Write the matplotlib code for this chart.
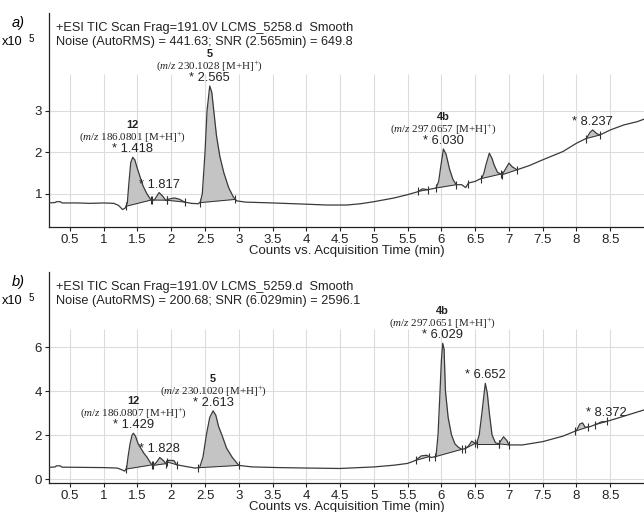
import numpy as np
import matplotlib
matplotlib.use("Agg")
import matplotlib.pyplot as plt

plt.rcParams['font.family'] = ['Liberation Sans', 'DejaVu Sans']
plt.rcParams['mathtext.fontset'] = 'custom'
plt.rcParams['mathtext.rm'] = 'Liberation Serif'
plt.rcParams['mathtext.it'] = 'Liberation Serif:italic'

# ---- trace a) LCMS_5258 ----
t_a = [0.19, 0.28, 0.30, 0.36, 0.38, 0.6, 0.8, 1.0, 1.15, 1.22, 1.28, 1.32, 1.35,
       1.37, 1.40, 1.43, 1.46, 1.50, 1.53, 1.58, 1.64, 1.70, 1.75, 1.82, 1.87, 1.92,
       1.98, 2.05, 2.12, 2.2, 2.3, 2.4, 2.43, 2.46, 2.50, 2.53, 2.57, 2.60, 2.63,
       2.67, 2.72, 2.78, 2.85, 2.92, 2.97, 3.1, 3.5, 4.0, 4.3, 4.6, 4.8, 5.0, 5.3,
       5.5, 5.65, 5.72, 5.8, 5.92, 5.96, 5.99, 6.03, 6.07, 6.12, 6.17, 6.22, 6.3,
       6.36, 6.4, 6.5, 6.6, 6.63, 6.66, 6.71, 6.75, 6.78, 6.83, 6.9, 6.95, 7.0,
       7.05, 7.12, 7.3, 7.5, 7.8, 8.0, 8.15, 8.2, 8.24, 8.3, 8.35, 8.5, 8.7, 8.9, 9.0]
v_a = [0.78, 0.79, 0.81, 0.81, 0.78, 0.78, 0.77, 0.78, 0.77, 0.72, 0.62, 0.66, 0.78,
       1.2, 1.75, 1.88, 1.82, 1.6, 1.45, 1.2, 1.0, 0.85, 0.85, 1.03, 0.95, 0.84,
       0.88, 0.9, 0.87, 0.8, 0.77, 0.76, 0.8, 1.0, 2.0, 3.0, 3.6, 3.45, 3.0,
       2.4, 1.9, 1.5, 1.15, 0.92, 0.83, 0.8, 0.78, 0.75, 0.73, 0.73, 0.76, 0.81, 0.9,
       0.98, 1.05, 1.12, 1.1, 1.14, 1.3, 1.65, 2.08, 1.95, 1.6, 1.35, 1.22, 1.22,
       1.15, 1.26, 1.3, 1.38, 1.5, 1.7, 1.98, 1.85, 1.7, 1.52, 1.46, 1.6, 1.74,
       1.65, 1.58, 1.68, 1.82, 2.02, 2.22, 2.34, 2.48, 2.54, 2.45, 2.42, 2.54, 2.66, 2.74, 2.8]
int_a = [(1.33, 1.70), (1.72, 1.93), (1.93, 2.20), (2.42, 2.95), (5.66, 5.80),
         (5.92, 6.22), (6.58, 6.88), (6.90, 7.12), (8.14, 8.35)]
marks_a = [6.39]
# (retention time label, compound, m/z text)
labels_a = [("1.418", "12", "186.0801"), ("1.817", None, None),
            ("2.565", "5", "230.1028"), ("6.030", "4b", "297.0657"),
            ("8.237", None, None)]
head_a = ["+ESI TIC Scan Frag=191.0V LCMS_5258.d  Smooth",
          "Noise (AutoRMS) = 441.63; SNR (2.565min) = 649.8"]

# ---- trace b) LCMS_5259 ----
t_b = [0.19, 0.28, 0.30, 0.36, 0.38, 0.7, 1.0, 1.2, 1.27, 1.31, 1.34, 1.36, 1.39,
       1.42, 1.44, 1.47, 1.51, 1.55, 1.60, 1.64, 1.70, 1.73, 1.78, 1.83, 1.88, 1.92,
       1.96, 2.04, 2.08, 2.2, 2.35, 2.42, 2.47, 2.52, 2.57, 2.62, 2.66, 2.70, 2.75,
       2.82, 2.9, 3.0, 3.2, 3.6, 4.0, 4.5, 5.0, 5.3, 5.5, 5.62, 5.7, 5.78, 5.85,
       5.92, 5.95, 5.98, 6.0, 6.02, 6.04, 6.06, 6.1, 6.15, 6.2, 6.25, 6.3, 6.35,
       6.4, 6.45, 6.5, 6.52, 6.56, 6.6, 6.65, 6.68, 6.71, 6.75, 6.8, 6.85, 6.92,
       6.97, 7.0, 7.2, 7.5, 7.8, 8.0, 8.05, 8.09, 8.13, 8.2, 8.3, 8.37, 8.45, 8.6,
       8.8, 9.0]
v_b = [0.53, 0.55, 0.6, 0.6, 0.54, 0.53, 0.52, 0.5, 0.42, 0.36, 0.5, 1.0, 1.6,
       2.0, 2.08, 1.95, 1.6, 1.4, 1.15, 1.0, 0.7, 0.62, 0.75, 0.98, 0.85, 0.7,
       0.85, 0.84, 0.65, 0.58, 0.5, 0.52, 1.0, 2.0, 2.8, 3.1, 2.9, 2.4, 2.0,
       1.4, 1.0, 0.62, 0.55, 0.52, 0.5, 0.48, 0.55, 0.63, 0.71, 0.85, 1.05, 1.08, 0.98,
       1.02, 2.0, 4.0, 5.4, 6.17, 5.9, 4.0, 2.8, 2.0, 1.6, 1.45, 1.35, 1.38,
       1.5, 1.72, 1.62, 1.6, 2.0, 3.0, 4.35, 3.9, 3.0, 2.0, 1.65, 1.6, 1.92,
       1.75, 1.55, 1.55, 1.7, 1.95, 2.2, 2.5, 2.55, 2.35, 2.38, 2.5, 2.6, 2.62, 2.76,
       2.95, 3.14]
int_b = [(1.33, 1.72), (1.73, 1.92), (1.94, 2.08), (2.40, 3.00), (5.62, 5.82),
         (5.90, 6.30), (6.35, 6.50), (6.52, 6.85), (6.85, 7.00), (7.98, 8.17),
         (8.28, 8.45)]
marks_b = []
labels_b = [("1.429", "12", "186.0807"), ("1.828", None, None),
            ("2.613", "5", "230.1020"), ("6.029", "4b", "297.0651"),
            ("6.652", None, None), ("8.372", None, None)]
head_b = ["+ESI TIC Scan Frag=191.0V LCMS_5259.d  Smooth",
          "Noise (AutoRMS) = 200.68; SNR (6.029min) = 2596.1"]

xticks = [0.5, 1, 1.5, 2, 2.5, 3, 3.5, 4, 4.5, 5, 5.5, 6, 6.5, 7, 7.5, 8, 8.5]
xtlabels = ["0.5", "1", "1.5", "2", "2.5", "3", "3.5", "4", "4.5", "5", "5.5",
            "6", "6.5", "7", "7.5", "8", "8.5"]

W, H = 644, 512
fig = plt.figure(figsize=(W / 100, H / 100), dpi=100)
line_c = '#3a3a3a'
grid_c = '#dcdcdc'


def panel(ax, t, v, ints, marks, labels, head, ylim, yticks, gridtop, tag):
    t = np.array(t)
    v = np.array(v)
    ax.set_xlim(0.19, 9.0)
    ax.set_ylim(*ylim)
    ax.vlines(xticks, ylim[0], gridtop, color=grid_c, lw=0.8, zorder=0)
    ax.hlines(yticks, 0.19, 9.0, color=grid_c, lw=0.8, zorder=0)
    for s, e in ints:
        m = (t > s) & (t < e)
        tt = np.concatenate([[s], t[m], [e]])
        vv = np.concatenate([[np.interp(s, t, v)], v[m], [np.interp(e, t, v)]])
        base = np.interp(tt, [s, e], [vv[0], vv[-1]])
        ax.fill_between(tt, base, vv, color='#c4c4c4', lw=0, zorder=1)
        ax.plot([s, e], [vv[0], vv[-1]], color='#303030', lw=0.7, zorder=2)
        ax.plot([s, e], [vv[0], vv[-1]], ls='none', marker='|', ms=6, mew=0.8,
                color='#303030', zorder=2)
    for mk in marks:
        ax.plot([mk], [np.interp(mk, t, v)], ls='none', marker='|', ms=6, mew=0.8,
                color='#303030', zorder=2)
    ax.plot(t, v, color=line_c, lw=0.9, zorder=3)
    for rt, comp, mz in labels:
        r = float(rt)
        w = (t > r - 0.08) & (t < r + 0.08)
        i = np.argmax(np.where(w, v, -1))
        px, py = t[i], v[i]
        ax.annotate("* " + rt, (px, py), xytext=(0, 8), textcoords='offset pixels',
                    ha='center', va='center', fontsize=9.3, color='#222222')
        if comp:
            ax.annotate(r"($\it{m/z}$ " + mz + r" [M+H]$^{+}$)", (px, py),
                        xytext=(0, 20), textcoords='offset pixels', ha='center',
                        va='center', fontsize=7.9, family='Liberation Serif',
                        color='#222222')
            ax.annotate(comp, (px, py), xytext=(0, 32), textcoords='offset pixels',
                        ha='center', va='center', fontsize=7.9, fontweight='bold',
                        color='#222222')
    ax.text(0.011, 1 - 15 / (ax.bbox.height), head[0], transform=ax.transAxes,
            fontsize=9.2, va='center', color='#222222')
    ax.text(0.011, 1 - 29 / (ax.bbox.height), head[1], transform=ax.transAxes,
            fontsize=9.2, va='center', color='#222222')
    ax.set_xticks(xticks)
    ax.set_xticklabels(xtlabels)
    ax.set_yticks(yticks)
    ax.set_yticklabels([str(y) for y in yticks])
    ax.tick_params(labelsize=9.5, length=3, width=0.8, colors='#222222', pad=2)
    for sp in ['top', 'right']:
        ax.spines[sp].set_visible(False)
    for sp in ['left', 'bottom']:
        ax.spines[sp].set_color('#222222')
        ax.spines[sp].set_linewidth(0.9)
    ax.set_xlabel("Counts vs. Acquisition Time (min)", fontsize=9.5, labelpad=-1,
                  color='#222222')
    top_px = H - ax.bbox.y1
    fig.text(12 / W, 1 - (top_px + 10) / H, tag, fontsize=10.5, style='italic',
             va='center')
    fig.text(2 / W, 1 - (top_px + 29) / H, "x10", fontsize=9.2, va='center')
    fig.text(29 / W, 1 - (top_px + 26) / H, "5", fontsize=7, va='center')


ax_a = fig.add_axes([49 / W, (H - 227) / H, 595 / W, (227 - 13) / H])
ax_b = fig.add_axes([49 / W, (H - 483) / H, 595 / W, (483 - 272) / H])
panel(ax_a, t_a, v_a, int_a, marks_a, labels_a, head_a, (0.2, 5.36), [1, 2, 3], 3.9, "a)")
panel(ax_b, t_b, v_b, int_b, marks_b, labels_b, head_b, (-0.18, 9.41), [0, 2, 4, 6], 6.8, "b)")

fig.savefig("out.png", dpi=100)
